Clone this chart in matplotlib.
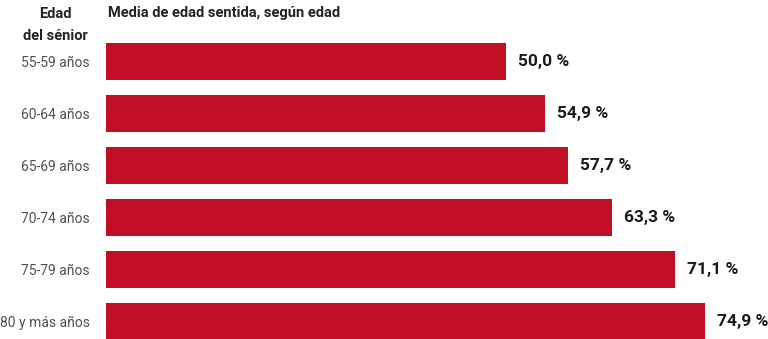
import matplotlib
matplotlib.use("Agg")
import matplotlib.pyplot as plt

categories = ["55-59 años", "60-64 años", "65-69 años", "70-74 años", "75-79 años", "80 y más años"]
values = [50.0, 54.9, 57.7, 63.3, 71.1, 74.9]
value_labels = ["50,0 %", "54,9 %", "57,7 %", "63,3 %", "71,1 %", "74,9 %"]

plt.rcParams['font.family'] = ['Roboto', 'DejaVu Sans']

W, H = 768, 339
fig = plt.figure(figsize=(W / 100, H / 100), dpi=100)

left = 106 / W
top_px = 35.5
ax = fig.add_axes([left, 0, 1 - left, (H - top_px) / H])

pos = list(range(len(categories)))
ax.barh(pos, values, height=0.71, color="#c20e24")
ax.set_xlim(0, (W - 106) / 8.0)
ax.set_ylim((H - 61.5) / 52.0, -0.5)

for p, v, lab in zip(pos, values, value_labels):
    ax.text(v + 1.5, p, lab, va="center", ha="left", fontsize=12.5,
            fontweight="bold", color="#1a1a1a")

ax.set_yticks(pos)
ax.set_yticklabels(categories, fontsize=10, color="#505050")
ax.tick_params(axis="y", length=0, pad=11.5)
ax.set_xticks([])
for s in ax.spines.values():
    s.set_visible(False)

fig.text(55 / W, 1 - 14 / H, "Edad", ha="center", va="center",
         fontsize=10.5, fontweight="bold", color="#222222")
fig.text(55 / W, 1 - 36 / H, "del sénior", ha="center", va="center",
         fontsize=10.5, fontweight="bold", color="#222222")
fig.text(108 / W, 1 - 13 / H, "Media de edad sentida, según edad", ha="left",
         va="center", fontsize=10.5, fontweight="bold", color="#222222")

fig.savefig("out.png", dpi=100)
